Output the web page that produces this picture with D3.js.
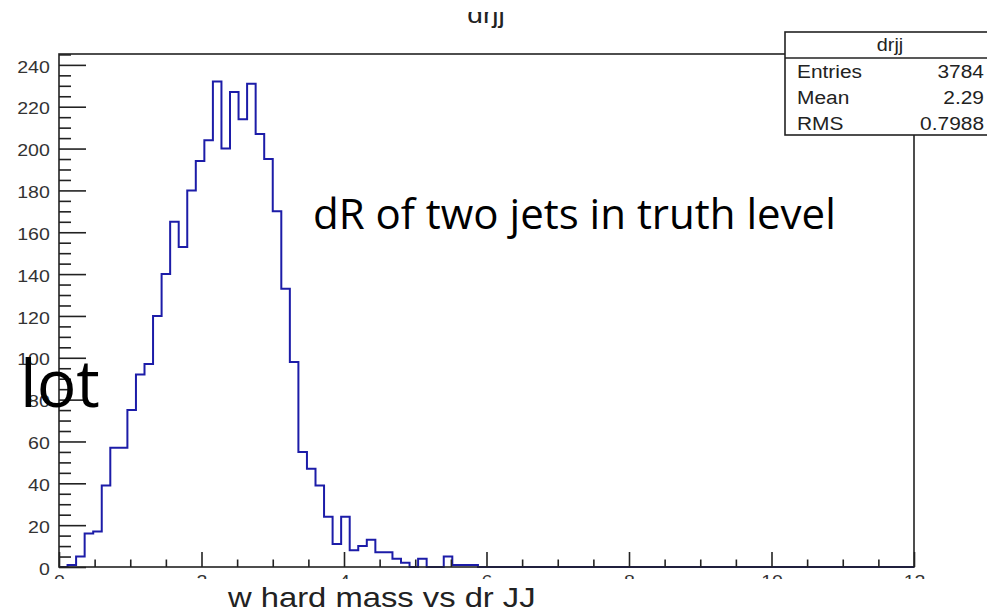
<!DOCTYPE html>
<html>
<head>
<meta charset="utf-8">
<script src="https://cdn.jsdelivr.net/npm/d3@7"></script>
<style>
  body { margin: 0; background: #fff; }
  svg { display: block; }
</style>
</head>
<body>
<div id="chart"></div>
<script>
// histogram of drjj: 100 bins from 0 to 12
var xRange = [0, 12];
var counts = [
  0, 1, 5, 16, 17, 39, 57, 57, 75, 92,
  97, 120, 140, 165, 153, 180, 194, 204, 232, 200,
  227, 214, 231, 207, 195, 170, 133, 98, 55, 47,
  39, 24, 11, 24, 8, 10, 13, 7, 7, 4,
  2, 0, 4, 0, 0, 5, 1, 1, 1, 0,
  0, 0, 0, 0, 0, 0, 0, 0, 0, 0,
  0, 0, 0, 0, 0, 0, 0, 0, 0, 0,
  0, 0, 0, 0, 0, 0, 0, 0, 0, 0,
  0, 0, 0, 0, 0, 0, 0, 0, 0, 0,
  0, 0, 0, 0, 0, 0, 0, 0, 0, 0
];
var yMax = 245.2;
var yTicks = [0, 20, 40, 60, 80, 100, 120, 140, 160, 180, 200, 220, 240];
var yMinorTicks = [5, 10, 15, 25, 30, 35, 45, 50, 55, 65, 70, 75, 85, 90, 95, 105, 110, 115,
  125, 130, 135, 145, 150, 155, 165, 170, 175, 185, 190, 195, 205, 210, 215, 225, 230, 235, 245];
var xTicks = [0, 2, 4, 6, 8, 10, 12];
var xMinorTicks = [0.5, 1, 1.5, 2.5, 3, 3.5, 4.5, 5, 5.5, 6.5, 7, 7.5, 8.5, 9, 9.5, 10.5, 11, 11.5];
var histTitle = "drjj";
var statLabels = ["Entries", "Mean", "RMS"];
var statValues = ["3784", "2.29", "0.7988"];
var xTitle = "w hard mass vs dr JJ";

var width = 987;
var height = 609;
var rootFont = "'Liberation Sans', Arial, Helvetica, sans-serif";
var slideFont = "'Open Sans', 'Noto Sans', sans-serif";

var svg = d3.select("#chart")
    .append("svg")
    .attr("width", width)
    .attr("height", height);

svg.append("rect").attr("width", width).attr("height", height).attr("fill", "#fff");

// frame
var frameL = 59, frameR = 914, frameT = 54, frameB = 567;

var x = d3.scaleLinear().domain(xRange).range([frameL, frameR]);
var y = d3.scaleLinear().domain([0, yMax]).range([frameB, frameT]);

// stretched text helper (the ROOT canvas is a bit wider than tall)
function rootText(parent, px, py, str, size, anchor, sx) {
    var g = parent.append("g")
        .attr("transform", "translate(" + px + "," + py + ") scale(" + sx + ",1)");
    g.append("text")
        .attr("text-anchor", anchor)
        .style("font-family", rootFont)
        .style("font-size", size + "px")
        .attr("fill", "#222")
        .text(str);
    return g;
}

// histogram outline
var binW = (xRange[1] - xRange[0]) / counts.length;
var pts = [[xRange[0], 0]];
counts.forEach(function (c, i) {
    pts.push([xRange[0] + i * binW, c]);
    pts.push([xRange[0] + (i + 1) * binW, c]);
});
pts.push([xRange[1], 0]);

var line = d3.line()
    .x(function (d) { return x(d[0]); })
    .y(function (d) { return y(d[1]); });

svg.append("path")
    .datum(pts)
    .attr("d", line)
    .attr("fill", "none")
    .attr("stroke", "#1c1ca8")
    .attr("stroke-width", 2);

// y axis
var yAxis = svg.append("g")
    .attr("transform", "translate(" + frameL + ",0)")
    .call(d3.axisLeft(y).tickValues(yTicks).tickSize(-27).tickPadding(8).tickFormat(d3.format("d")));
yAxis.append("g")
    .call(d3.axisLeft(y).tickValues(yMinorTicks).tickSize(-12).tickFormat(""));

// x axis
var xAxis = svg.append("g")
    .attr("transform", "translate(0," + frameB + ")")
    .call(d3.axisBottom(x).tickValues(xTicks).tickSize(-15).tickPadding(8).tickFormat(d3.format("d")));
xAxis.append("g")
    .call(d3.axisBottom(x).tickValues(xMinorTicks).tickSize(-7.5).tickFormat(""));

svg.selectAll(".domain").remove();
svg.selectAll(".tick line").attr("stroke", "#222").attr("stroke-width", 1.6);
svg.selectAll(".tick text")
    .style("font-family", rootFont)
    .style("font-size", "17px")
    .attr("fill", "#333");
yAxis.selectAll(".tick text").attr("dy", "0.42em").attr("transform", "scale(1.15,1)");
xAxis.selectAll(".tick text").attr("transform", "scale(1.15,1)");

// frame box
svg.append("rect")
    .attr("x", frameL).attr("y", frameT)
    .attr("width", frameR - frameL).attr("height", frameB - frameT)
    .attr("fill", "none")
    .attr("stroke", "#222")
    .attr("stroke-width", 1.6);

// stats box
var statX = 785, statY = 32, statH = 103;
svg.append("rect")
    .attr("x", statX).attr("y", statY)
    .attr("width", 220).attr("height", statH)
    .attr("fill", "#fff")
    .attr("stroke", "#222")
    .attr("stroke-width", 1.6);
svg.append("line")
    .attr("x1", statX).attr("x2", width)
    .attr("y1", 58).attr("y2", 58)
    .attr("stroke", "#222")
    .attr("stroke-width", 1.4);
rootText(svg, 890, 51, histTitle, 18, "middle", 1.1);
statLabels.forEach(function (s, i) {
    rootText(svg, 797, 78 + i * 26, s, 19, "start", 1.1);
    rootText(svg, 984, 78 + i * 26, statValues[i], 19, "end", 1.1);
});

// histogram title, cut at top
rootText(svg, 486, 23, histTitle, 25, "middle", 1.12);
svg.append("rect").attr("x", 380).attr("y", 0).attr("width", 220).attr("height", 12).attr("fill", "#fff");

// bottom of the canvas is covered
svg.append("rect").attr("x", 0).attr("y", 579).attr("width", width).attr("height", height - 579).attr("fill", "#fff");
rootText(svg, 228, 607, xTitle, 28, "start", 1.17);

// slide text on top
svg.append("text")
    .attr("x", 20).attr("y", 407)
    .style("font-family", slideFont)
    .style("font-size", "66px")
    .attr("fill", "#000")
    .text("lot");

svg.append("text")
    .attr("x", 313).attr("y", 229)
    .style("font-family", slideFont)
    .style("font-size", "42px")
    .attr("fill", "#000")
    .text("dR of two jets in truth level");
</script>
</body>
</html>
